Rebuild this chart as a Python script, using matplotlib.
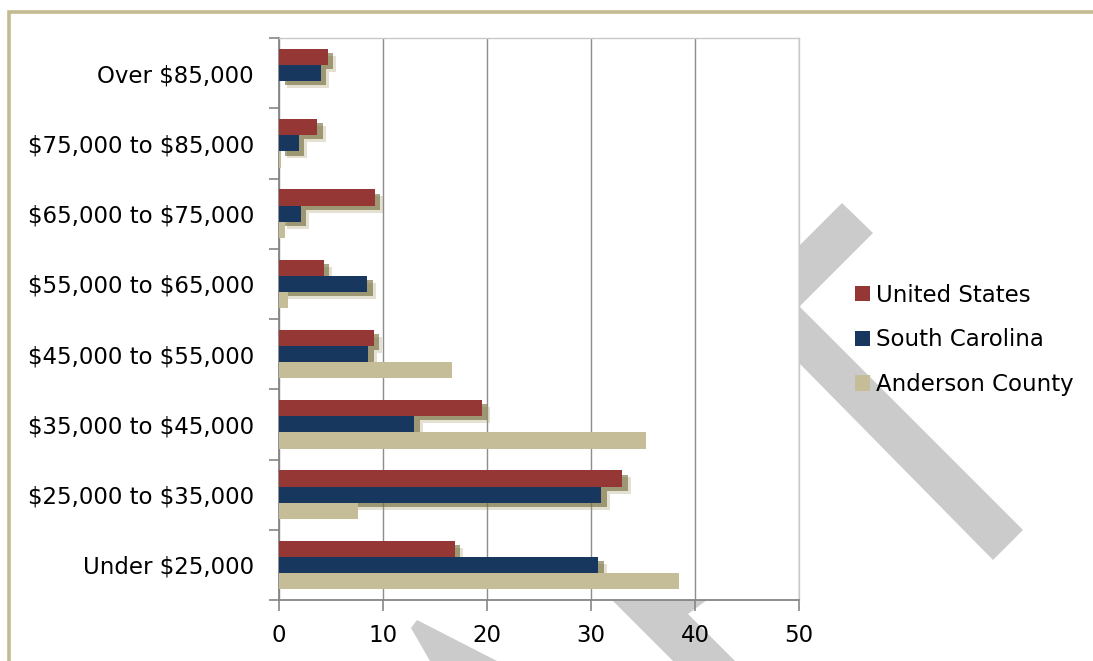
import matplotlib.pyplot as plt
import matplotlib.patheffects as pe
from matplotlib.patches import Polygon, Patch
import numpy as np

# categories listed bottom to top
categories = ['Under $25,000', '$25,000 to $35,000', '$35,000 to $45,000',
              '$45,000 to $55,000', '$55,000 to $65,000', '$65,000 to $75,000',
              '$75,000 to $85,000', 'Over $85,000']
united_states = [16.9, 33.0, 19.5, 9.1, 4.3, 9.2, 3.7, 4.7]
south_carolina = [30.7, 31.0, 13.0, 8.6, 8.5, 2.1, 1.9, 4.0]
anderson_county = [38.5, 7.6, 35.3, 16.6, 0.9, 0.6, 0.15, 0.0]
series_names = ['United States', 'South Carolina', 'Anderson County']
x_ticks = [0, 10, 20, 30, 40, 50]

c_us = '#953735'
c_sc = '#17375e'
c_ac = '#c4bd97'
grid_c = '#8c8c8c'

plt.rcParams['font.family'] = 'DejaVu Sans'
plt.rcParams['text.parse_math'] = False

W, H = 1093, 661
fig = plt.figure(figsize=(W / 100, H / 100), dpi=100)

# background layer in pixel coords: frame + watermark stripes
bg = fig.add_axes([0, 0, 1, 1], zorder=-1)
bg.set_xlim(0, W)
bg.set_ylim(H, 0)
bg.axis('off')
bg.plot([8.5, 8.5, W], [H, 11.5, 11.5], color='#c4bb92', lw=2.6,
        solid_joinstyle='miter')
wm = '#cbcbcb'
bg.add_patch(Polygon([(842, 203), (873, 233), (799.5, 306.5), (1023, 530),
                      (993, 560), (741, 304)], closed=True, fc=wm, ec='none'))
bg.add_patch(Polygon([(411, 628), (417, 620), (497, 661), (430, 661)],
                     closed=True, fc=wm, ec='none'))
bg.add_patch(Polygon([(612, 600), (707, 600), (688, 614), (735, 661),
                      (673, 661)], closed=True, fc=wm, ec='none'))

ax = fig.add_axes([279 / W, 61 / H, 520 / W, 562 / H])
ax.set_facecolor('white')

y = np.arange(len(categories))
h = 0.229
shadow = [pe.SimplePatchShadow(offset=(6, -5), shadow_rgbFace='#a89e6a', alpha=0.3),
          pe.SimplePatchShadow(offset=(4, -3), shadow_rgbFace='#6f6735', alpha=0.6),
          pe.Normal()]
ax.barh(y + h, united_states, height=h, color=c_us, zorder=3, path_effects=shadow)
ax.barh(y, south_carolina, height=h, color=c_sc, zorder=3, path_effects=shadow)
ax.barh(y - h, anderson_county, height=h, color=c_ac, zorder=4)

ax.set_xlim(0, 50)
ax.set_ylim(-0.5, len(categories) - 0.5)
ax.set_xticks(x_ticks)
ax.grid(axis='x', color=grid_c, lw=1, zorder=1)
ax.set_yticks(y)
ax.set_yticklabels(categories)
ax.set_yticks(np.arange(-0.5, len(categories)), minor=True)
ax.tick_params(axis='y', which='major', length=0, pad=18, labelsize=16.5)
ax.tick_params(axis='y', which='minor', length=7, width=1.2, color='#868686')
ax.tick_params(axis='x', length=8, width=1.2, color='#868686', pad=9,
               labelsize=16.5)
for s in ['left', 'bottom']:
    ax.spines[s].set_color('#868686')
    ax.spines[s].set_linewidth(1.3)
for s in ['top', 'right']:
    ax.spines[s].set_color('#c8c8c8')
    ax.spines[s].set_linewidth(1)

handles = [Patch(facecolor=c, edgecolor='none') for c in (c_us, c_sc, c_ac)]
fig.legend(handles, series_names, loc='upper left',
           bbox_to_anchor=(834 / W, 1 - 263 / H),
           frameon=False, fontsize=16.5, handlelength=0.65, handleheight=0.65,
           handletextpad=0.3, labelspacing=0.95)

fig.savefig('out.png', dpi=100)
